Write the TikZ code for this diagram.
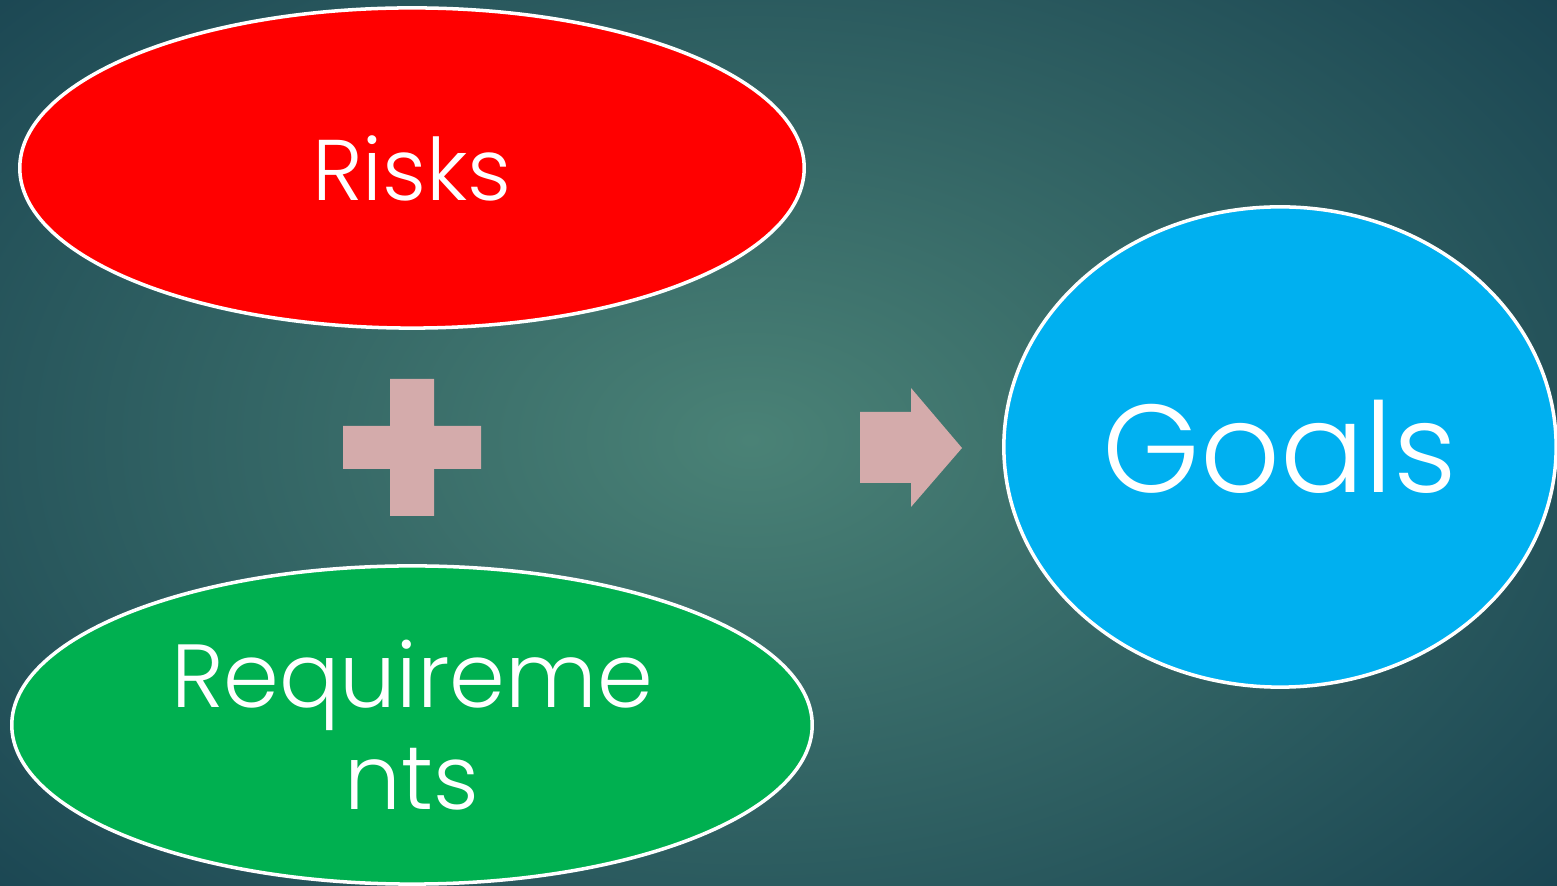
\documentclass[tikz,border=0pt]{standalone}
\usepackage{fontspec}
\setmainfont{Poppins}[UprightFont=* Light]
\usepackage{tikz}
\usetikzlibrary{shapes.geometric}

\definecolor{bgin}{HTML}{4A8276}
\definecolor{bgout}{HTML}{1A4552}
\definecolor{riskred}{HTML}{FF0000}
\definecolor{reqgreen}{HTML}{00B050}
\definecolor{goalblue}{HTML}{00B0F0}
\definecolor{signpink}{HTML}{D4ABAB}

\begin{document}
\begin{tikzpicture}[x=0.01cm,y=-0.01cm,
    bubble/.style={ellipse,draw=white,line width=1pt,text=white,inner sep=0pt,align=center}]
      \useasboundingbox (0,0) rectangle (1557,886);
      \shade[inner color=bgin,outer color=bgout] (-300,-250) rectangle (1800,1130);
      \node[bubble,fill=riskred,minimum width=7.84cm,minimum height=3.2cm,font=\fontsize{24.5}{29}\selectfont] (risks) at (412,168) {Risks};
      \node[bubble,fill=reqgreen,minimum width=8cm,minimum height=3.18cm,font=\fontsize{25.5}{29}\selectfont] (reqs) at (412,725) {Requireme\\nts};
      \node[bubble,fill=goalblue,minimum width=5.52cm,minimum height=4.8cm,font=\fontsize{35.5}{40}\selectfont] (goals) at (1280,447) {Goals};
      % plus sign
      \fill[signpink] (390,379) -- (434,379) -- (434,426) -- (481,426) -- (481,469) -- (434,469)
        -- (434,516) -- (390,516) -- (390,469) -- (343,469) -- (343,426) -- (390,426) -- cycle;
      % arrow
      \fill[signpink] (860,412) -- (911,412) -- (911,388) -- (962,448) -- (911,507) -- (911,483)
        -- (860,483) -- cycle;
  \end{tikzpicture}
\end{document}
